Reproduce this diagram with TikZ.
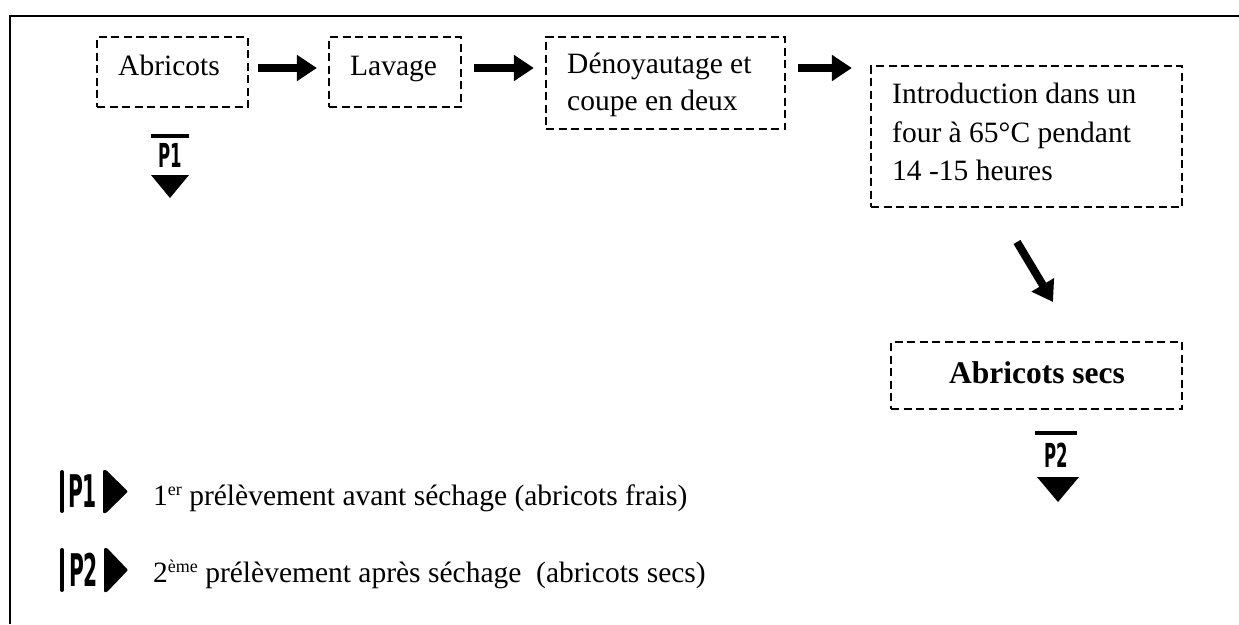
\documentclass[tikz,border=0pt]{standalone}
\usepackage{fontspec}
\setmainfont{Liberation Serif}
\newfontfamily\markfont{DejaVu Sans}
\usetikzlibrary{arrows.meta}
% raised exponent for ordinal suffixes
\newcommand\expo[1]{\raisebox{10pt}{\fontsize{18}{18}\selectfont #1}}
\begin{document}
\begin{tikzpicture}[x=1pt,y=-1pt,
  dbox/.style={draw, dash pattern=on 8pt off 4.5pt, line width=2.2pt, inner sep=0pt},
  txt/.style={anchor=base west, inner sep=0pt, font=\fontsize{29.5}{38}\selectfont},
  fat/.style={line width=8pt, -{Triangle[length=20pt,width=25pt]}},
  tag/.style={inner sep=0pt, font=\markfont\bfseries\fontsize{33}{33}\selectfont},
  bigtag/.style={inner sep=0pt, font=\markfont\bfseries\fontsize{45}{45}\selectfont}]
\useasboundingbox (0,0) rectangle (1239,624);

% frame
\draw[line width=2.5pt] (10,624) -- (10,16) -- (1239,16);

% process boxes
\node[dbox, minimum width=151pt, minimum height=70pt] (abr) at (172.5,72) {};
\node[dbox, minimum width=132pt, minimum height=70pt] (lav) at (395,72) {};
\node[dbox, minimum width=239pt, minimum height=92pt] (den) at (665.5,83) {};
\node[dbox, minimum width=311pt, minimum height=141pt] (intro) at (1026.5,136.5) {};
\node[dbox, minimum width=291pt, minimum height=67pt] (secs) at (1036.5,375.5) {};

% box texts
\node[txt] (abrT) at (118,75) {Abricots};
\node[txt] (lavT) at (350,75) {Lavage};
\node[txt] (denA) at (567,73) {Dénoyautage et};
\node[txt] (denB) at (567,110) {coupe en deux};
\node[txt] (intA) at (892,103) {Introduction dans un};
\node[txt] (intB) at (892,142) {four à 65°C pendant};
\node[txt] (intC) at (892,180) {14 -15 heures};
\node[anchor=base, inner sep=0pt, font=\fontsize{31.5}{38}\selectfont\bfseries] (secsT) at (1037,383) {Abricots secs};

% flow arrows
\coordinate (row) at (0,68);
\draw[fat, shorten <=9pt, shorten >=11pt] (abr.east |- row) -- (lav.west |- row);
\draw[fat, shorten <=12pt, shorten >=11pt] (lav.east |- row) -- (den.west |- row);
\draw[fat, shorten <=12pt, shorten >=18pt] (den.east |- row) -- (intro.west |- row);
\coordinate (dgA) at (1017,242);
\coordinate (dgB) at (1053,302);
\draw[fat] (dgA) -- (dgB);

% sampling point P1
\node[tag] (p1) at (170,155) {\scalebox{0.5}[1]{P1}};
\draw[line width=3.5pt] (151,136) -- (189,136);
\fill (151,175) -- (189,175) -- (170,198) -- cycle;

% sampling point P2
\node[tag] (p2) at (1056,455.5) {\scalebox{0.5}[1]{P2}};
\draw[line width=3.5pt] (1035,433) -- (1077,433);
\fill (1037,477) -- (1079,477) -- (1058,502) -- cycle;

% legend
\draw[line width=4pt, line cap=round] (62,472) -- (62,511);
\node[bigtag] (l1) at (82.5,491.5) {\scalebox{0.45}[1]{P1}};
\fill[rounded corners=1pt] (103,470) -- (106,470) -- (128,491.5) -- (106,513) -- (103,513) -- cycle;
\node[txt] (leg1) at (153,505) {1\expo{er} prélèvement avant séchage (abricots frais)};

\draw[line width=4pt, line cap=round] (62,550) -- (62,590);
\node[bigtag] (l2) at (83.5,570) {\scalebox{0.45}[1]{P2}};
\fill[rounded corners=1pt] (104,548) -- (107,548) -- (128,570) -- (107,592) -- (104,592) -- cycle;
\node[txt] (leg2) at (153,582) {2\expo{ème} prélèvement après séchage~ (abricots secs)};
\end{tikzpicture}
\end{document}
